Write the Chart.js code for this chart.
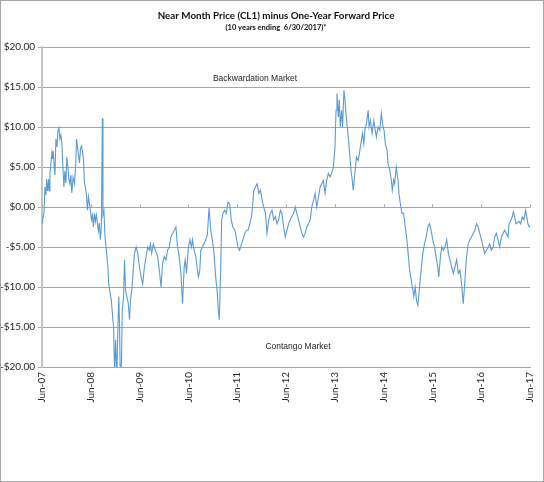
<!DOCTYPE html>
<html><head><meta charset="utf-8">
<script src="https://cdn.jsdelivr.net/npm/chart.js@4.4.0/dist/chart.umd.min.js"></script>
<style>html,body{margin:0;padding:0;background:#fff;}canvas{display:block;}</style>
</head><body>
<canvas id="c" width="544" height="482"></canvas>
<script>
const titleText = 'Near Month Price (CL1) minus One-Year Forward Price';
const subtitleText = '(10 years ending  6/30/2017)*';
const upperNote = 'Backwardation Market';
const lowerNote = 'Contango Market';
const xTickValues = [0,12,24,36,48,60,72,84,96,108,120];
const xTickLabels = ['Jun-07','Jun-08','Jun-09','Jun-10','Jun-11','Jun-12','Jun-13','Jun-14','Jun-15','Jun-16','Jun-17'];
const yTickValues = [-20,-15,-10,-5,0,5,10,15,20];
const yTickLabels = ['-$20.00','-$15.00','-$10.00','-$5.00','$0.00','$5.00','$10.00','$15.00','$20.00'];

// months since Jun-2007
const months = [0,0.17,0.49,0.73,0.98,1.15,1.39,1.64,1.78,1.96,2.2,2.44,2.62,2.76,3.0,3.18,3.42,3.67,3.91,4.16,4.4,4.65,4.89,5.13,5.38,5.62,5.87,6.11,6.36,6.6,6.85,7.09,7.33,7.65,8.0,8.31,8.48,8.73,8.97,9.22,9.46,9.71,9.95,10.2,10.44,10.68,10.93,11.17,11.42,11.66,11.91,12.15,12.4,12.64,12.89,13.13,13.37,13.62,13.86,14.11,14.35,14.6,14.84,14.99,15.23,15.48,15.82,16.21,16.38,16.63,17.04,17.43,17.6,17.85,18.09,18.41,18.66,18.9,19.07,19.24,19.49,19.73,20.05,20.29,20.54,20.86,21.2,21.52,21.76,22.08,22.32,22.74,23.15,23.55,23.96,24.38,24.77,25.18,25.6,25.99,26.41,26.65,26.97,27.38,27.87,28.44,28.85,29.27,29.66,30.07,30.49,30.88,31.3,31.71,32.1,32.52,32.93,33.33,33.74,34.16,34.55,34.96,35.21,35.53,36.01,36.36,36.75,36.99,37.41,37.82,38.22,38.46,38.8,39.05,39.44,39.85,40.27,40.66,41.08,41.49,41.88,42.3,42.71,43.11,43.35,43.59,43.94,44.18,44.5,44.91,45.31,45.72,46.14,46.53,46.94,47.43,47.75,48.17,48.58,49.07,49.39,49.88,50.29,50.68,51.1,51.52,51.83,52.08,52.49,52.89,53.3,53.72,54.11,54.52,54.94,55.33,55.75,56.16,56.55,56.97,57.38,57.78,58.19,58.61,59.0,59.41,59.83,60.22,60.64,61.05,61.44,61.86,62.27,62.67,63.08,63.5,63.89,64.3,64.72,65.11,65.53,65.94,66.33,66.75,67.16,67.56,67.97,68.39,68.78,69.19,69.61,70.0,70.42,70.83,71.22,71.64,72.05,72.3,72.54,72.86,73.11,73.35,73.67,73.91,74.25,74.5,74.74,75.06,75.31,75.72,75.97,76.28,76.53,76.77,77.09,77.33,77.75,78.17,78.56,78.8,79.14,79.39,79.78,80.2,80.44,80.76,81.17,81.59,81.83,82.22,82.64,83.06,83.45,83.86,84.11,84.43,84.84,85.09,85.5,85.89,86.14,86.48,86.72,87.11,87.53,87.78,88.09,88.51,88.92,89.32,89.73,89.98,90.39,90.78,91.2,91.44,91.76,92.1,92.42,92.84,93.23,93.64,94.06,94.45,94.87,95.28,95.67,96.09,96.5,96.89,97.31,97.56,97.97,98.29,98.7,99.1,99.51,99.93,100.32,100.73,101.15,101.54,101.96,102.37,102.76,103.18,103.59,103.99,104.4,104.82,105.21,105.62,106.04,106.43,106.85,107.26,107.65,108.07,108.48,108.88,109.29,109.71,110.1,110.51,110.93,111.32,111.74,112.15,112.54,112.96,113.37,113.77,114.18,114.6,114.84,115.23,115.65,115.89,116.21,116.55,117.29,117.68,118.09,118.51,118.9,119.19,119.49,119.8,120];
const spread = [-2.0,-1.5,-0.75,2.5,1.5,3.5,2.0,3.5,2.0,4.25,5.5,6.8,6.0,7.0,5.0,4.0,8.5,7.5,9.5,9.9,8.5,9.0,8.0,5.0,2.5,4.5,3.0,6.25,5.0,3.5,2.9,4.0,1.75,3.75,2.9,5.5,8.5,7.5,6.5,5.5,7.3,7.6,7.0,6.0,3.0,2.5,1.5,-0.4,1.3,0.5,-0.5,-1.6,-1.0,-2.5,-0.8,-1.8,-1.0,-2.0,-3.0,-2.0,-4.1,-2.5,11.1,-1.0,-0.5,-3.6,-5.4,-7.5,-9.5,-10.4,-11.6,-14.1,-15,-21,-16.6,-21,-15,-11.2,-15,-21,-21,-12.9,-11.2,-6.6,-10.4,-11.2,-12,-14.1,-11.6,-10.4,-8.75,-5.8,-5,-5.8,-7.5,-8.75,-9.6,-7.5,-6.2,-5,-5.4,-4.6,-5.8,-4.6,-5.4,-6.2,-7.9,-10,-7,-6.2,-6.6,-5.4,-5,-3.75,-3.3,-2.9,-2.5,-5,-6.2,-8.3,-12.1,-7.5,-6.6,-8.3,-5,-4.1,-5,-4.1,-5.4,-6.2,-7.9,-8.75,-7.9,-5.4,-5,-4.6,-4.1,-3.5,-0.1,-2.9,-4.1,-5.8,-8.75,-10.8,-12.9,-14.1,-7.9,-1.6,-0.8,-0.4,-0.8,0.6,0.4,-1.6,-2.5,-2.9,-3.75,-5,-5.4,-4.6,-4.1,-3.3,-2.9,-2.9,-2.1,-1.2,0.4,2.1,2.5,2.9,1.7,2.1,0.9,0,-0.8,-3.3,-1.6,-0.8,-0.4,-1.6,-1.2,-2.1,-1.6,-0.4,-0.8,-2.5,-3.75,-2.9,-2.1,-1.6,-1.2,-0.8,0,-0.8,-1.6,-2.5,-3.3,-3.75,-3.3,-2.5,-2.1,-1.6,0,0.8,1.7,0,1.2,2.5,2.9,3.3,1.7,3.3,4.2,3.75,4.2,5.0,7.5,12.1,14.2,11.25,13.4,10.0,12.1,10.0,14.6,13.4,11.7,10.0,8.75,6.25,4.6,3.4,2.1,3.4,5.0,6.25,5.8,7.1,8.4,9.2,7.9,9.6,10.4,12.1,10.0,10.8,9.2,10.8,10.0,8.75,10.0,9.6,11.7,10.0,9.6,7.9,7.1,5.4,4.6,3.4,2.1,3.4,2.9,5.0,3.4,1.7,0.5,-0.8,-0.8,-2.5,-4.1,-5.5,-7.9,-9.1,-10.4,-11.2,-10,-11.7,-12.3,-10,-7.9,-5.8,-4.6,-3.75,-2.5,-2.1,-2.9,-4.1,-5,-6.2,-7.5,-8.75,-6.2,-5,-5.4,-5,-4.1,-5.8,-6.6,-7.5,-8.3,-7.5,-6.6,-8.3,-7.9,-9.6,-12.1,-9.2,-6.2,-4.6,-4.1,-3.75,-3.3,-2.9,-2.1,-2.5,-3.3,-4.1,-5,-5.8,-5.4,-5,-4.6,-5.4,-5,-3.75,-3.3,-4.1,-5,-3.75,-3.3,-2.9,-3.3,-3.75,-2.1,-1.7,-1.2,-0.6,-1.2,-2.1,-1.8,-2.1,-1.25,-1.6,-0.4,-1.2,-2.1,-2.5,-2.3];

const points = months.map((m, i) => ({x: m, y: spread[i]}));

const decor = {
  id: 'decor',
  beforeDraw(chart) {
    const ctx = chart.ctx;
    ctx.save();
    ctx.fillStyle = '#fff';
    ctx.fillRect(0, 0, chart.width, chart.height);
    ctx.restore();
  },
  afterDraw(chart) {
    const ctx = chart.ctx;
    const xs = chart.scales.x, ys = chart.scales.y;
    ctx.save();
    ctx.strokeStyle = '#a6a6a6';
    ctx.lineWidth = 1;
    ctx.strokeRect(0.5, 0.5, chart.width - 1, chart.height - 1);
    const y0 = Math.round(ys.getPixelForValue(0)) + 0.5;
    xTickValues.forEach(v => {
      const px = Math.round(xs.getPixelForValue(v)) + 0.5;
      ctx.beginPath(); ctx.moveTo(px, y0 - 3); ctx.lineTo(px, y0); ctx.stroke();
    });
    const cx = 276;
    ctx.fillStyle = '#111';
    ctx.textAlign = 'center';
    ctx.textBaseline = 'middle';
    ctx.font = 'bold 9.8px Lato';
    ctx.fillText(titleText, cx, 15.5);
    ctx.font = 'bold 7.5px Lato';
    ctx.fillText(subtitleText, cx, 27.5);
    ctx.fillStyle = '#222';
    ctx.font = '8.5px "Liberation Sans"';
    ctx.fillText(upperNote, 255, ys.getPixelForValue(16.1));
    ctx.fillText(lowerNote, 298, ys.getPixelForValue(-17.4));
    ctx.restore();
  }
};

new Chart(document.getElementById('c'), {
  type: 'line',
  data: {
    datasets: [{
      data: points,
      borderColor: '#5b9bd5',
      borderWidth: 1.1,
      pointRadius: 0,
      tension: 0,
      fill: false
    }]
  },
  options: {
    responsive: false,
    animation: false,
    layout: { padding: { top: 47, right: 11, left: 0, bottom: 0 } },
    plugins: { legend: { display: false }, tooltip: { enabled: false }, title: { display: false } },
    scales: {
      x: {
        type: 'linear',
        min: 0, max: 120,
        afterFit(s) { s.height = 115; },
        afterBuildTicks(s) { s.ticks = xTickValues.map(v => ({ value: v })); },
        ticks: {
          autoSkip: false,
          maxRotation: 90, minRotation: 90,
          padding: 2,
          color: '#262626',
          font: { family: 'Lato', size: 10 },
          callback: (v) => xTickLabels[xTickValues.indexOf(v)]
        },
        grid: { drawOnChartArea: false, color: 'transparent', tickLength: 3 },
        border: { color: '#a6a6a6', width: 1 }
      },
      y: {
        min: -20, max: 20,
        afterFit(s) { s.width = 42; },
        afterBuildTicks(s) { s.ticks = yTickValues.map(v => ({ value: v })); },
        ticks: {
          padding: 3,
          color: '#262626',
          font: { family: 'Lato', size: 10 },
          callback: (v) => yTickLabels[yTickValues.indexOf(v)]
        },
        grid: { color: '#a6a6a6', lineWidth: 1, tickLength: 4 },
        border: { color: '#c4c4c4', width: 2 }
      }
    }
  },
  plugins: [decor]
});
</script>
</body></html>
